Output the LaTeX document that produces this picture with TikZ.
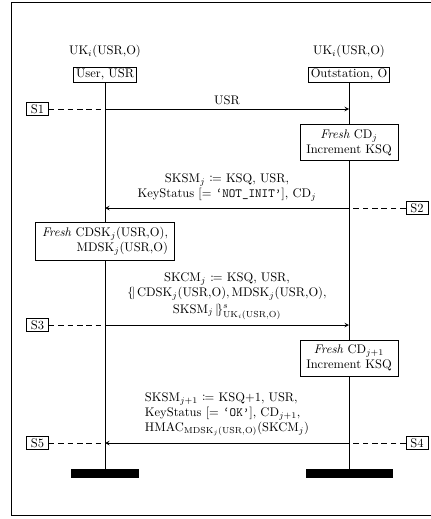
\documentclass[tikz,border=0pt]{standalone}
\usepackage{mathtools}
\usetikzlibrary{shapes,arrows,positioning,calc}

\newcommand{\lenc}{\{\!|}
\newcommand{\renc}{|\!\}}

\tikzset{
  actor/.style={draw, semithick, fill=white, inner xsep=2pt, inner ysep=1.5pt},
  action/.style={draw, semithick, fill=white, inner xsep=5pt, inner ysep=4pt},
  stepbox/.style={draw, semithick, fill=white, inner xsep=3.5pt, inner ysep=1.5pt},
  endbar/.style={fill=black, minimum height=7.2pt, inner sep=0pt},
  life/.style={semithick},
  msg/.style={semithick, ->},
  ext/.style={semithick, dash pattern=on 4.5pt off 3pt},
}

\begin{document}
\begin{tikzpicture}[x=0.8pt, y=-0.8pt, >=stealth]
    \useasboundingbox (0,0) rectangle (430,519);
    \draw[semithick] (11,2) rectangle (450,515);

    % the two parties
    \node (usrkey) at (105,51) {UK$_i$(USR,O)};
    \node (outkey) at (349,51) {UK$_i$(USR,O)};
    \node[actor] (usr) at (105,74.5) {User, USR};
    \node[actor] (out) at (349,74.5) {Outstation, O};

    % local actions
    \node[action, align=center] (cdj) at (349,142.5) {\textit{Fresh} CD$_j$\\Increment KSQ};
    \node[action, align=right] (cdsk) at (105,241.5) {\textit{Fresh} CDSK$_j$(USR,O),\\MDSK$_j$(USR,O)};
    \node[action, align=center] (cdjj) at (349,358) {\textit{Fresh} CD$_{j+1}$\\Increment KSQ};

    % ends of the lifelines
    \node[endbar, minimum width=54.4pt] (usrend) at (105,473.5) {};
    \node[endbar, minimum width=69.6pt] (outend) at (349,473.5) {};

    \draw[life] (usr) -- (cdsk);
    \draw[life] (cdsk) -- (usrend);
    \draw[life] (out) -- (cdj);
    \draw[life] (cdj) -- (cdjj);
    \draw[life] (cdjj) -- (outend);

    % steps
    \node[stepbox] (s1) at (37.5,109) {S1};
    \node[stepbox] (s2) at (417,208) {S2};
    \node[stepbox] (s3) at (37.5,325) {S3};
    \node[stepbox] (s4) at (417,443) {S4};
    \node[stepbox] (s5) at (37.5,443) {S5};

    % messages
    \draw[ext] (s1) -- (s1 -| usr);
    \draw[msg] (s1 -| usr) -- node[above] {USR} (s1 -| out);

    \draw[ext] (s2) -- (s2 -| out);
    \draw[msg] (s2 -| out) -- node[above=2pt, align=center]
        {SKSM$_j$ $\coloneqq$ KSQ, USR,\\KeyStatus [= \texttt{‘NOT\_INIT’}], CD$_j$} (s2 -| usr);

    \draw[ext] (s3) -- (s3 -| usr);
    \draw[msg] (s3 -| usr) -- node[above=1pt, align=center]
        {SKCM$_j$ $\coloneqq$ KSQ, USR,\\
         $\lenc\,\text{CDSK}_j\text{(USR,O)}, \text{MDSK}_j\text{(USR,O)},$\\[1pt]
         $\text{SKSM}_j\,\renc^{s}_{\text{UK}_i\text{(USR,O)}}$} (s3 -| out);

    \draw[ext] (s4) -- (s4 -| out);
    \draw[msg] (s4 -| out) -- node[above=2pt, align=left]
        {SKSM$_{j+1}$ $\coloneqq$ KSQ+1, USR,\\
         KeyStatus [= \texttt{‘OK’}], CD$_{j+1}$,\\
         HMAC$_{\text{MDSK}_j\text{(USR,O)}}$(SKCM$_j$)} (s4 -| usr);
    \draw[ext] (s5) -- (s5 -| usr);
\end{tikzpicture}
\end{document}
